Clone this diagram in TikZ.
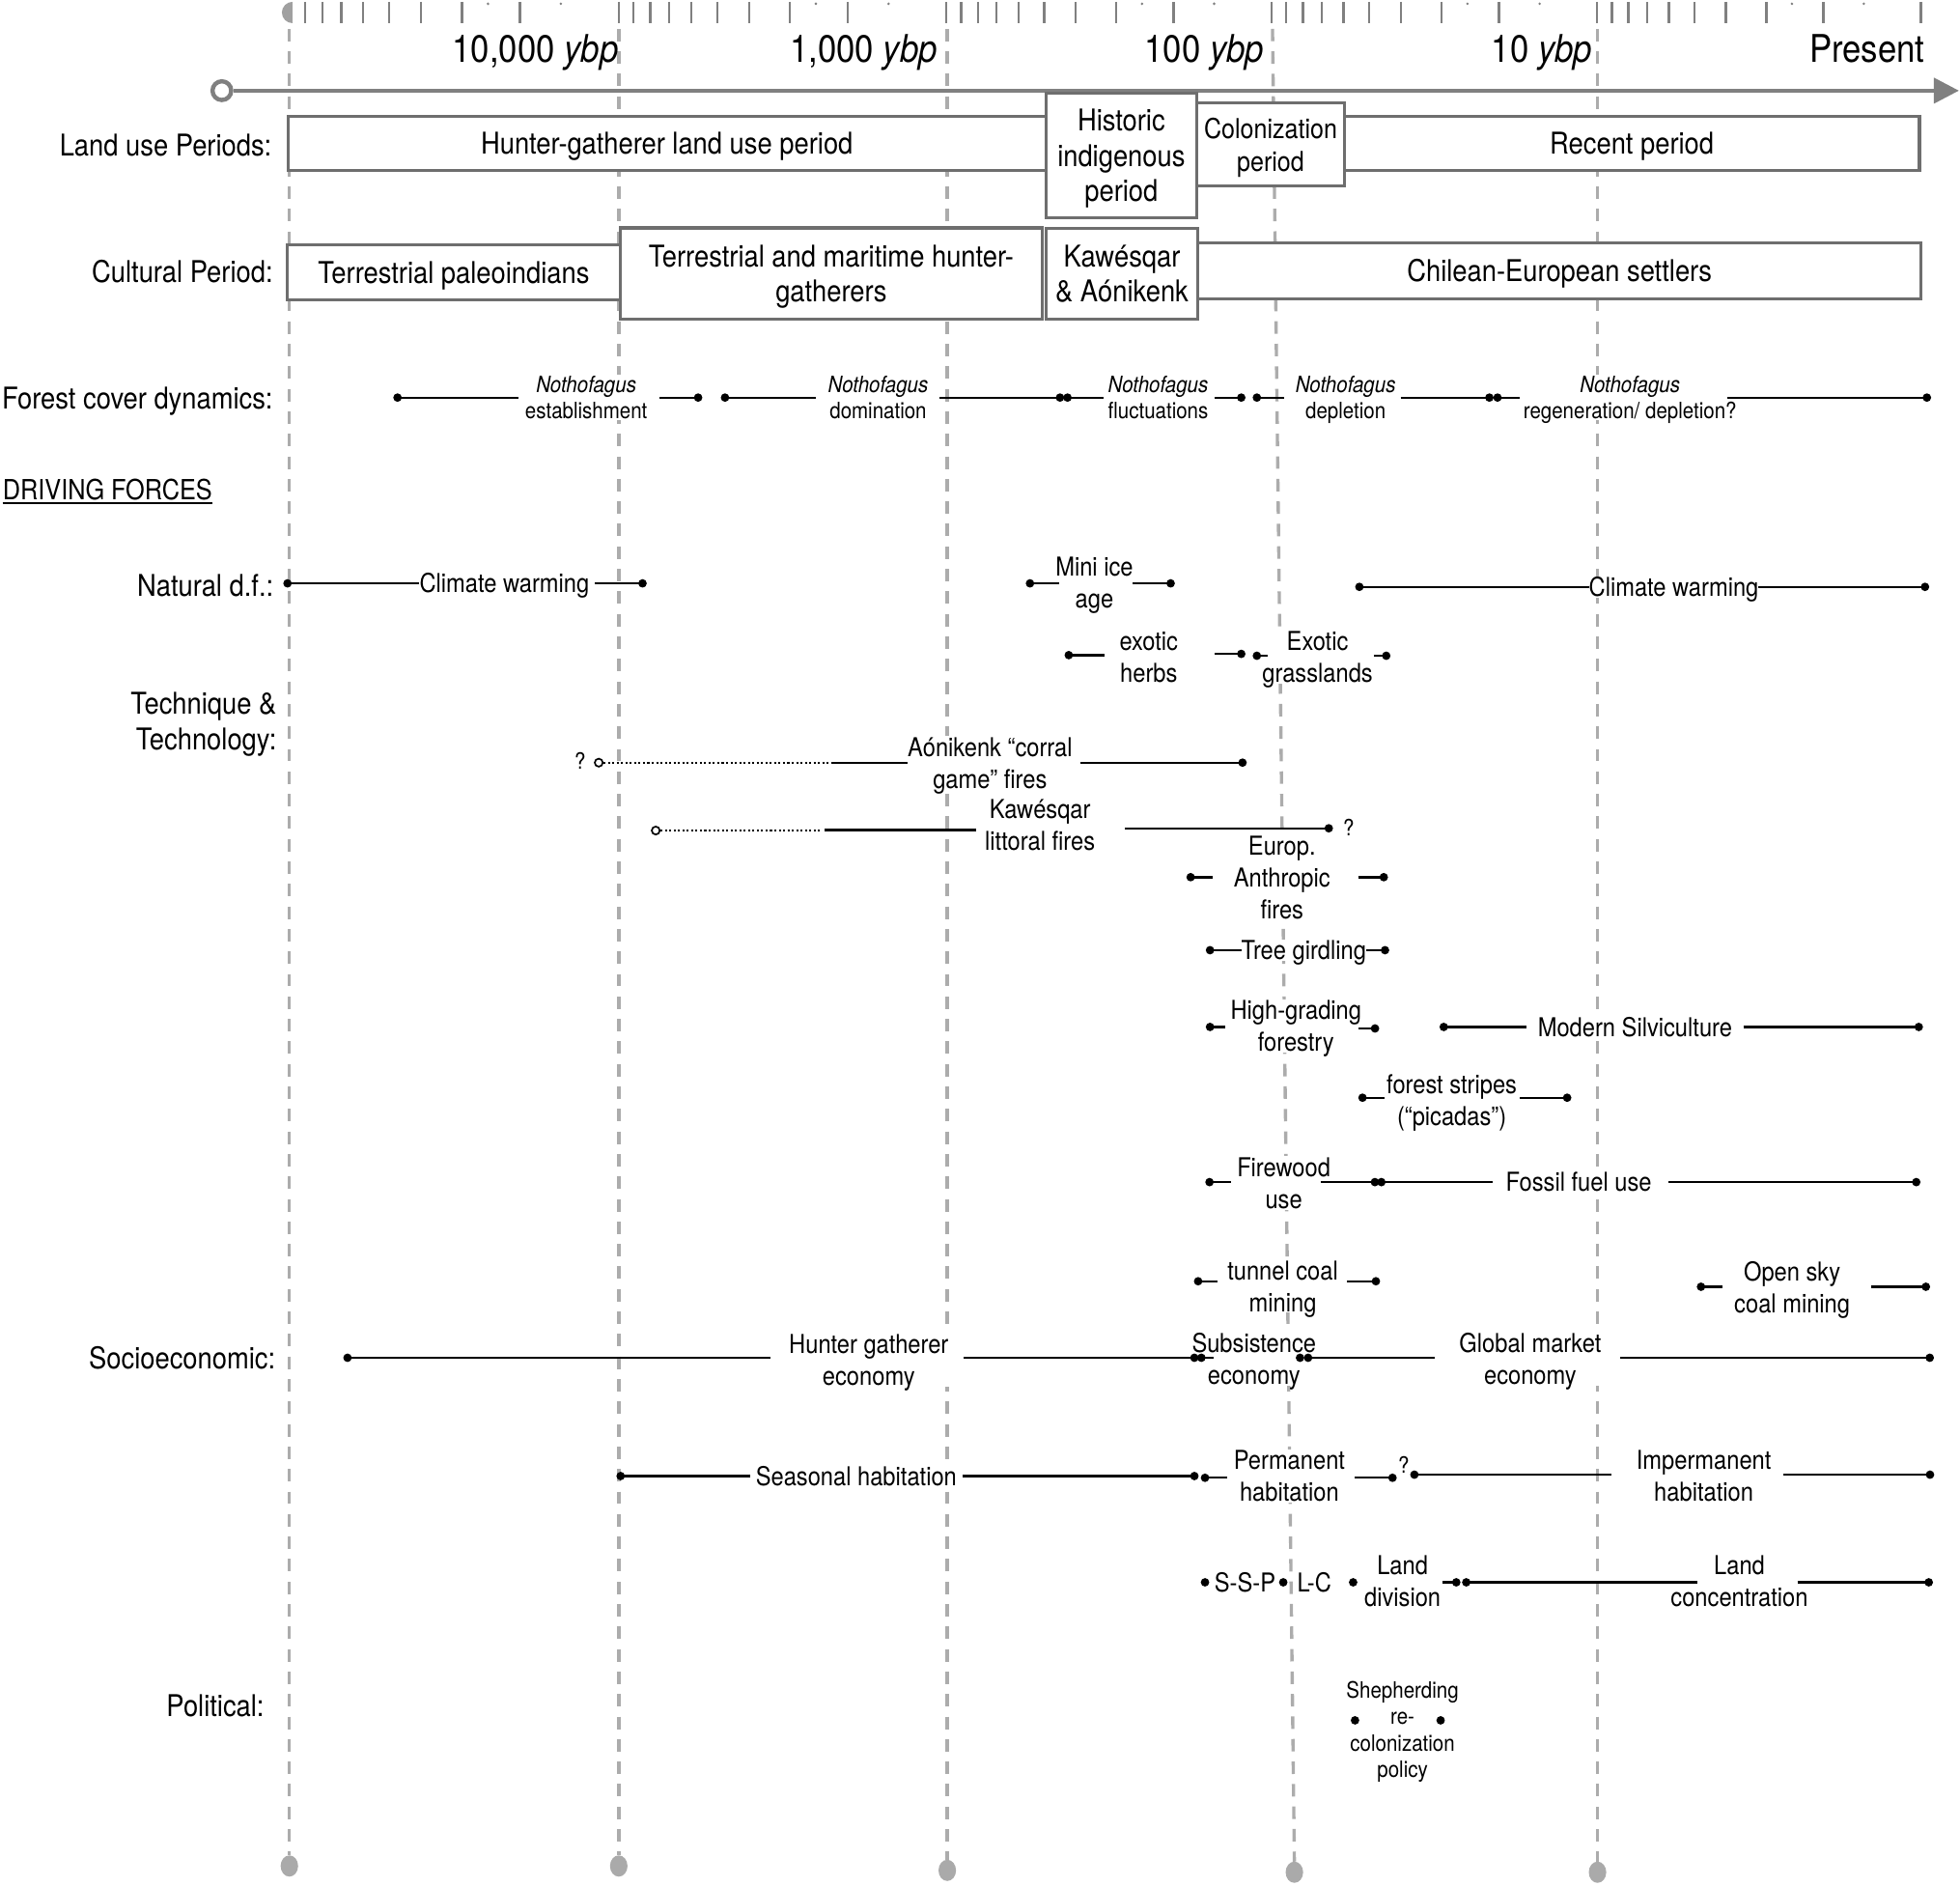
\documentclass[tikz,border=0pt]{standalone}
\usepackage{fontspec}
\setmainfont{TeX Gyre Heros}[FakeStretch=0.88]
\definecolor{dashc}{RGB}{172,172,172}
\definecolor{tickc}{RGB}{128,128,128}
\definecolor{axisc}{RGB}{128,128,128}
\definecolor{boxc}{RGB}{110,110,110}
\definecolor{enddotc}{RGB}{170,170,170}
\newcommand\myfbig{\fontsize{30.5}{34}\selectfont}
\newcommand\myfmain{\fontsize{24}{28}\selectfont}
\newcommand\myfcol{\fontsize{22}{27}\selectfont}
\newcommand\myfdf{\fontsize{22.2}{26}\selectfont}
\newcommand\myfmed{\fontsize{20.8}{25.5}\selectfont}
\newcommand\myfsmall{\fontsize{18}{21}\selectfont}
\newcommand\nd[1]{\raisebox{0pt}[\height][0pt]{#1}}
\newcommand\mybd[1]{\fill[black] (#1) circle (3.4pt);}
\newcommand\myseg[4]{\coordinate (#1a) at (#2,#4); \coordinate (#1b) at (#3,#4); \draw[conn] (#1a) -- (#1b);}
\tikzset{
  lbl/.style={fill=white, inner sep=1pt, align=center, font=\myfmed},
  slbl/.style={fill=white, inner sep=1pt, align=center, font=\myfsmall},
  mainsl/.style={text height=17.3pt, text depth=0pt},
  medsl/.style={text height=15pt, text depth=0pt},
  smallsl/.style={text height=13pt, text depth=0pt},
  rowlbl/.style={anchor=east, inner sep=0pt, align=right, font=\myfmain},
  yearlbl/.style={anchor=base east, inner sep=0pt, font=\myfbig},
  conn/.style={line width=1.8pt, draw=black},
  dotconn/.style={line width=1.6pt, draw=black, dash pattern=on 1.6pt off 1.9pt},
  opend/.style={circle, draw=black, fill=white, line width=1.3pt, minimum size=6.4pt, inner sep=0pt},
  pbox/.style={draw=boxc, line width=2.4pt, fill=white, inner sep=0pt, align=center, font=\myfmain},
  dashl/.style={draw=dashc, line width=2.6pt, dash pattern=on 10pt off 8pt},
  tickl/.style={draw=tickc, line width=1.8pt},
  qmark/.style={font=\myfsmall, smallsl, inner sep=0.5pt},
}
\begin{document}
\begin{tikzpicture}[x=1pt,y=-1pt]
\useasboundingbox (0,0) rectangle (1568,1508);
% ---------- top scale
\fill[tickc!75] (234,1.5) -- (234,18.5) arc[start angle=90,end angle=270,radius=8.5] -- cycle;
\foreach \ds/\dw in {232.3/262.6,494.9/262.1,757/260.1,1017.1/260.5,1277.6/259}{
  \foreach \v in {2,...,9}{\draw[tickl] ({\ds+\dw*(1-log10(\v))},1.5) -- ++(0,17);}
  \foreach \v in {1.5,2.5}{\fill[tickc] ({\ds+\dw*(1-log10(\v))},3) circle (1.1pt);}
}
\foreach \x in {494.9,757,1017.1,1277.6,1536.6}{\draw[tickl] (\x,1.5) -- ++(0,17);}
% ---------- dashed decade lines
\coordinate (gt1) at (231.5,23);  \coordinate (gb1) at (231.5,1484);
\coordinate (gt2) at (495,23);    \coordinate (gb2) at (495,1484);
\coordinate (gt3) at (757.8,23);  \coordinate (gb3) at (757.8,1487.5);
\coordinate (gt4) at (1018,23);   \coordinate (gb4) at (1035.5,1489);
\coordinate (gt5) at (1278,23);   \coordinate (gb5) at (1278,1489);
\foreach \i in {1,...,5}{\draw[dashl] (gt\i) -- (gb\i);}
\fill[enddotc] (231.5,1492.5) ellipse [x radius=7,y radius=8.5];
\fill[enddotc] (495,1492.5) ellipse [x radius=7,y radius=8.5];
\fill[enddotc] (757.8,1496) ellipse [x radius=7,y radius=8.5];
\fill[enddotc] (1035.5,1497.5) ellipse [x radius=7,y radius=8.5];
\fill[enddotc] (1278,1497.5) ellipse [x radius=7,y radius=8.5];
% ---------- time axis
\node[circle, draw=axisc, line width=3.4pt, fill=white, minimum size=15pt, inner sep=0pt] (axs) at (177.5,72.5) {};
\coordinate (axe) at (1550,72.5);
\draw[axisc, line width=3.6pt] (axs.east) -- (axe);
\fill[axisc] (1547,62) -- (1567,72.5) -- (1547,83) -- cycle;
\node[yearlbl] (y4) at (495,50.2) {10,000 \textit{ybp}};
\node[yearlbl] (y3) at (750,50.2) {1,000 \textit{ybp}};
\node[yearlbl] (y2) at (1011.5,50.2) {100 \textit{ybp}};
\node[yearlbl] (y1) at (1274,50.2) {10 \textit{ybp}};
\node[yearlbl] (y0) at (1540,50.2) {Present};
% ---------- period boxes
\node[pbox, mainsl, minimum width=606.1pt, minimum height=43.5pt] (lu1) at (533.55,114.75) {Hunter-gatherer land use period};
\node[pbox, minimum width=120.9pt, minimum height=99.5pt] (lu2) at (897.05,124.25) {Historic\\indigenous\\\nd{period}};
\node[pbox, font=\myfcol, minimum width=118pt, minimum height=66.5pt] (lu3) at (1016.5,115.75) {Colonization\\\nd{period}};
\node[pbox, mainsl, minimum width=460pt, minimum height=43.3pt] (lu4) at (1305.5,114.85) {Recent period};
\node[pbox, mainsl, minimum width=266pt, minimum height=44.3pt] (cp1) at (363,217.85) {Terrestrial paleoindians};
\node[pbox, minimum width=338pt, minimum height=72.7pt] (cp2) at (665,218.65) {Terrestrial and maritime hunter-\\\nd{gatherers}};
\node[pbox, minimum width=121.9pt, minimum height=72.2pt] (cp3) at (897.55,218.9) {Kawésqar\\\& Aónikenk};
\node[pbox, mainsl, minimum width=578.2pt, minimum height=44.6pt] (cp4) at (1247.6,216.7) {Chilean-European settlers};
% ---------- row labels
\node[rowlbl, mainsl] (rl1) at (217.5,116) {Land use Periods:};
\node[rowlbl, mainsl] (rl2) at (218.5,217.6) {Cultural Period:};
\node[rowlbl, mainsl] (rl3) at (218.5,318.5) {Forest cover dynamics:};
\node[anchor=west, inner sep=0pt, font=\myfdf, text height=16pt, text depth=0pt] (dfl) at (2,391.4) {DRIVING FORCES};
\draw[line width=1.3pt] ([yshift=-3pt]dfl.south west) -- ([yshift=-3pt]dfl.south east);
\node[rowlbl, mainsl] (rl4) at (219,468.6) {Natural d.f.:};
\node[rowlbl] (rl5) at (221.5,576.8) {Technique \&\\\nd{Technology:}};
\node[rowlbl, mainsl] (rl6) at (220.5,1086) {Socioeconomic:};
\node[rowlbl, mainsl] (rl7) at (211.5,1364) {Political:};
% ---------- labels
\node[slbl] (fl1) at (469,317.8) {\textit{Nothofagus}\\establishment};
\node[slbl] (fl2) at (702.5,317.8) {\textit{Nothofagus}\\domination};
\node[slbl] (fl3) at (926.5,317.8) {\textit{Nothofagus}\\fluctuations};
\node[slbl] (fl4) at (1076.5,317.8) {\textit{Nothofagus}\\\nd{depletion}};
\node[slbl] (fl5) at (1304,317.8) {\textit{Nothofagus}\\\nd{regeneration/ depletion?}};
\node[lbl, medsl] (nl1) at (403.5,466.6) {Climate warming};
\node[lbl] (nl2) at (875.5,466) {Mini ice\\\nd{age}};
\node[lbl, medsl] (nl3) at (1339,469.4) {Climate warming};
\node[lbl] (el1) at (919,525.5) {exotic\\herbs};
\node[lbl] (el2) at (1054,525.5) {Exotic\\\nd{grasslands}};
\node[lbl] (tl1) at (792,610.2) {Aónikenk “corral\\\nd{game” fires}};
\node[qmark] (tq1) at (464,609) {?};
\node[lbl] (tl2) at (832,659.8) {Kawésqar\\littoral fires};
\node[qmark] (tq2) at (1079,661.7) {?};
\node[lbl] (tl3) at (1025.6,702.2) {Europ.\\Anthropic\\fires};
\node[lbl, medsl] (tl4) at (1043,760) {Tree girdling};
\node[lbl] (tl5) at (1036.8,820.75) {High-grading\\\nd{forestry}};
\node[lbl, medsl] (tl6) at (1308,821.4) {Modern Silviculture};
\node[lbl] (tl7) at (1161.4,879.7) {forest stripes\\\nd{(“picadas”)}};
\node[lbl] (tl8) at (1027,946.25) {Firewood\\use};
\node[lbl, medsl] (tl9) at (1263,945.5) {Fossil fuel use};
\node[lbl] (tl10) at (1026.2,1028.65) {tunnel coal\\\nd{mining}};
\node[lbl] (tl11) at (1433.7,1029.9) {Open sky\\\nd{coal mining}};
\node[lbl] (sl1) at (695,1087.85) {Hunter gatherer\\\nd{economy}};
\node[lbl] (sl2) at (1003.2,1086.55) {Subsistence\\\nd{economy}};
\node[lbl] (sl3) at (1224.2,1086.55) {Global market\\\nd{economy}};
\node[lbl, medsl] (hl1) at (685,1180.6) {Seasonal habitation};
\node[lbl] (hl2) at (1031.5,1180.55) {Permanent\\habitation};
\node[qmark] (hq) at (1123,1171.5) {?};
\node[lbl] (hl3) at (1363,1180.55) {Impermanent\\habitation};
\node[lbl, medsl, inner sep=0.5pt] (ssp) at (996,1265.6) {S-S-P};
\node[lbl, medsl, inner sep=0.5pt] (lc) at (1051.5,1265.6) {L-C};
\node[lbl] (ll1) at (1122,1264.9) {Land\\division};
\node[lbl] (ll2) at (1391.5,1264.9) {Land\\concentration};
\node[slbl] (pl) at (1122,1383.2) {Shepherding\\re-\\colonization\\\nd{policy}};
% ---------- connectors: forest cover
\myseg{f1l}{318}{415}{318} \myseg{f1r}{527.5}{558.5}{318}
\myseg{f2l}{580}{652.5}{318} \myseg{f2r}{751.5}{848}{318}
\myseg{f3l}{854}{882.5}{318} \myseg{f3r}{971.5}{993}{318}
\myseg{f4l}{1005.5}{1027}{318} \myseg{f4r}{1120.5}{1191.5}{318}
\myseg{f5l}{1198}{1216}{318} \myseg{f5r}{1381.5}{1541.5}{318}
\mybd{f1la}\mybd{f1rb}\mybd{f2la}\mybd{f2rb}\mybd{f3la}\mybd{f3rb}\mybd{f4la}\mybd{f4rb}\mybd{f5la}\mybd{f5rb}
% natural
\myseg{n1l}{230}{335}{466.6} \myseg{n1r}{476}{514}{466.6}
\myseg{n2l}{824}{847.5}{466.6} \myseg{n2r}{906}{936.5}{466.6}
\myseg{n3l}{1087.5}{1271.5}{469.4} \myseg{n3r}{1406.6}{1540}{469.4}
\mybd{n1la}\mybd{n1rb}\mybd{n2la}\mybd{n2rb}\mybd{n3la}\mybd{n3rb}
\myseg{e1l}{855}{884}{524} \myseg{e1r}{971.5}{993}{523}
\myseg{e2l}{1005.5}{1014}{524.5} \myseg{e2r}{1099}{1109}{524.5}
\mybd{e1la}\mybd{e1rb}\mybd{e2la}\mybd{e2rb}
% technique and technology
\node[opend] (t1o) at (479,610) {};
\coordinate (t1q) at (662.5,610);
\draw[dotconn] (t1o.east) -- (t1q);
\myseg{t1l}{665}{726}{610} \myseg{t1r}{864}{994}{610}
\mybd{t1rb}
\node[opend] (t2o) at (524.6,664.3) {};
\coordinate (t2q) at (656.4,664.3);
\draw[dotconn] (t2o.east) -- (t2q);
\myseg{t2l}{660}{781}{664} \myseg{t2r}{900}{1063}{662.5}
\mybd{t2rb}
\myseg{t3l}{952.5}{970}{701.6} \myseg{t3r}{1086.5}{1107}{701.6}
\myseg{t4l}{968}{993}{760} \myseg{t4r}{1093}{1108}{760}
\myseg{t5l}{968}{980.5}{821.4} \myseg{t5r}{1086.5}{1100}{822.6}
\myseg{t6l}{1155}{1221}{821.4} \myseg{t6r}{1394.6}{1535}{821.4}
\myseg{t7l}{1090}{1107.5}{878} \myseg{t7r}{1215.6}{1253.7}{878}
\myseg{t8l}{967.6}{985}{945.5} \myseg{t8r}{1056.5}{1099.9}{945.5}
\myseg{t9l}{1105.1}{1194.4}{945.5} \myseg{t9r}{1334.8}{1533}{945.5}
\myseg{t10l}{958.5}{974}{1024.8} \myseg{t10r}{1077.7}{1100.7}{1024.8}
\myseg{t11l}{1360.8}{1378.2}{1029.2} \myseg{t11r}{1497.3}{1540.7}{1029.2}
\mybd{t3la}\mybd{t3rb}\mybd{t4la}\mybd{t4rb}\mybd{t5la}\mybd{t5rb}\mybd{t6la}\mybd{t6rb}
\mybd{t7la}\mybd{t7rb}\mybd{t8la}\mybd{t8rb}\mybd{t9la}\mybd{t9rb}\mybd{t10la}\mybd{t10rb}
\mybd{t11la}\mybd{t11rb}
% socioeconomic
\myseg{s1l}{278}{616}{1086} \myseg{s1r}{771}{955.5}{1086}
\myseg{s2l}{961.1}{970.6}{1086} \myseg{s2r}{1046.5}{1147.6}{1086}
\myseg{s3r}{1295.8}{1543.8}{1086}
\coordinate (s2d) at (1040,1086);
\mybd{s1la}\mybd{s1rb}\mybd{s2la}\mybd{s2d}\mybd{s2ra}\mybd{s3rb}
\myseg{h1l}{496.5}{600}{1180.6} \myseg{h1r}{770}{955.5}{1180.6}
\myseg{h2l}{964}{981.5}{1182} \myseg{h2r}{1084}{1114}{1182}
\myseg{h3l}{1131.5}{1289}{1179.5} \myseg{h3r}{1426.5}{1544}{1179.5}
\mybd{h1la}\mybd{h1rb}\mybd{h2la}\mybd{h2rb}\mybd{h3la}\mybd{h3rb}
\coordinate (ld1) at (964,1265.6); \coordinate (ld2) at (1026.6,1265.6); \coordinate (ld3) at (1082.5,1265.6);
\mybd{ld1}\mybd{ld2}\mybd{ld3}
\myseg{l1r}{1154}{1165}{1265.6} \myseg{l2l}{1173}{1358}{1265.6} \myseg{l2r}{1438}{1543}{1265.6}
\mybd{l1rb}\mybd{l2la}\mybd{l2rb}
% political
\coordinate (pd1) at (1084,1376); \coordinate (pd2) at (1152.5,1376);
\mybd{pd1}\mybd{pd2}
\end{tikzpicture}
\end{document}
